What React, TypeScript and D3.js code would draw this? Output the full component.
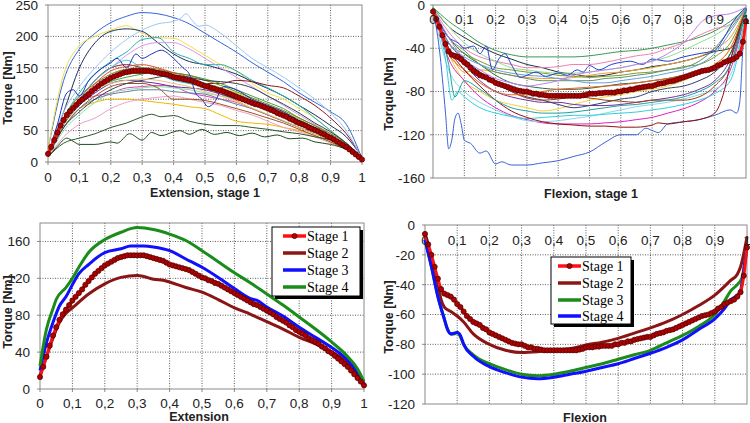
import React from "react";
import * as d3 from "d3";

type Pt = [number, number];

const XTICKS = [0, 0.1, 0.2, 0.3, 0.4, 0.5, 0.6, 0.7, 0.8, 0.9, 1];
const G21 = [0, 0.05, 0.1, 0.15, 0.2, 0.25, 0.3, 0.35, 0.4, 0.45, 0.5, 0.55, 0.6, 0.65, 0.7, 0.75, 0.8, 0.85, 0.9, 0.95, 1];
const G101 = d3.range(101).map((i) => i / 100);

const YTICKS_EXT1 = [0, 50, 100, 150, 200, 250];
const YTICKS_FLEX1 = [0, -40, -80, -120, -160];
const YTICKS_EXT = [0, 40, 80, 120, 160];
const YTICKS_FLEX = [0, -20, -40, -60, -80, -100, -120];

// Stage 1 mean curves sampled every 0.01
const EXT_STAGE1 = [13, 24, 35, 47, 58, 67, 75, 81, 86, 91, 96, 100, 104, 108, 113, 117, 121, 125, 128, 131, 134, 136, 138, 140, 142, 143, 144, 145, 145, 145, 145, 145, 145, 144, 143, 142, 141, 140, 139, 137, 135, 134, 133, 132, 131, 130, 129, 127, 125, 123, 121, 120, 118, 117, 115, 114, 112, 110, 108, 106, 104, 102, 100, 98, 96, 94, 92, 91, 89, 87, 85, 83, 81, 78, 76, 74, 72, 69, 67, 64, 62, 60, 58, 55, 53, 51, 49, 46, 44, 41, 39, 36, 33, 30, 27, 24, 20, 16, 12, 8, 4];
const FLEX_STAGE1 = [-6, -13, -20, -28, -36, -43, -46, -47, -48, -50, -53, -55, -58, -61, -63, -65, -66, -67, -69, -70, -72, -73, -74, -75, -76, -77, -78, -79, -79.5, -80, -80, -81, -82, -82, -83, -83, -83.5, -84, -84, -84, -84, -84, -84, -84, -84, -84, -84, -84, -83.5, -83, -82, -82, -82, -81.5, -81.5, -81, -81, -81, -81, -80, -80, -79, -79, -78, -78, -77, -76.5, -76, -75.5, -75, -75, -74, -73, -72.5, -72, -71, -70.5, -70, -69, -68, -67, -66, -65, -64, -63, -62, -61, -60.5, -60, -59, -58, -56, -55, -53, -52, -51, -50, -48, -45, -34, -15];

const EXT_STAGE2: Pt[] = [[0, 15], [0.02, 35], [0.04, 55], [0.06, 72], [0.08, 82], [0.1, 88], [0.15, 103], [0.2, 114], [0.25, 121], [0.3, 123], [0.32, 122], [0.35, 119], [0.38, 118], [0.4, 116], [0.45, 110], [0.5, 105], [0.55, 97], [0.6, 88], [0.65, 81], [0.7, 73], [0.75, 65], [0.8, 56], [0.85, 49], [0.9, 40], [0.93, 34], [0.95, 28], [0.98, 16], [1, 6]];
const EXT_STAGE3: Pt[] = [[0, 20], [0.02, 50], [0.04, 72], [0.06, 90], [0.08, 100], [0.1, 113], [0.12, 125], [0.15, 135], [0.2, 148], [0.25, 152], [0.28, 155], [0.32, 155], [0.35, 154], [0.4, 150], [0.45, 141], [0.5, 132], [0.55, 121], [0.6, 109], [0.65, 98], [0.67, 96], [0.7, 89], [0.75, 79], [0.8, 67], [0.85, 56], [0.9, 45], [0.95, 31], [0.98, 18], [1, 5]];
const EXT_STAGE4: Pt[] = [[0, 25], [0.02, 65], [0.04, 87], [0.05, 97], [0.08, 110], [0.1, 120], [0.12, 132], [0.15, 148], [0.2, 162], [0.25, 170], [0.3, 175], [0.35, 173], [0.4, 168], [0.45, 161], [0.5, 150], [0.55, 138], [0.6, 126], [0.65, 115], [0.7, 103], [0.75, 91], [0.8, 78], [0.85, 65], [0.9, 51], [0.95, 35], [0.98, 22], [1, 8]];

const FLEX_STAGE2: Pt[] = [[0, -8], [0.02, -22], [0.04, -40], [0.05, -50], [0.06, -55], [0.08, -58], [0.1, -61], [0.12, -65], [0.15, -73], [0.2, -80], [0.25, -84], [0.3, -85.5], [0.35, -85], [0.4, -84], [0.45, -83], [0.5, -80.5], [0.55, -78.5], [0.6, -76], [0.65, -72.5], [0.7, -69], [0.75, -65], [0.8, -60], [0.85, -54], [0.9, -47], [0.95, -37], [0.97, -33], [0.98, -28], [1, -8]];
const FLEX_STAGE3: Pt[] = [[0, -10], [0.02, -28], [0.04, -48], [0.06, -63], [0.07, -70], [0.08, -73], [0.09, -73], [0.1, -72], [0.11, -75], [0.12, -80], [0.15, -87], [0.2, -93], [0.25, -97], [0.3, -100], [0.35, -101], [0.4, -100], [0.45, -98], [0.5, -95.5], [0.55, -93], [0.6, -90], [0.65, -87], [0.7, -84], [0.75, -79], [0.8, -74], [0.85, -68], [0.9, -60], [0.93, -51], [0.95, -44], [0.97, -40], [0.985, -35], [1, -13]];
const FLEX_STAGE4: Pt[] = [[0, -10], [0.02, -28], [0.04, -48], [0.06, -63], [0.07, -70], [0.08, -73], [0.09, -72.5], [0.1, -72], [0.11, -74], [0.12, -80], [0.15, -88], [0.2, -95], [0.25, -99], [0.3, -102], [0.35, -103], [0.4, -102], [0.45, -100], [0.5, -98], [0.55, -95.5], [0.6, -93], [0.65, -89.5], [0.7, -86], [0.75, -82], [0.8, -77], [0.85, -70], [0.9, -63], [0.93, -56], [0.95, -50], [0.97, -47], [0.98, -44], [0.99, -30], [1, -15]];

// Individual extension trials (values on G21)
const EXT_TRIALS: number[][] = [
  [20, 130, 180, 205, 222, 232, 238, 236, 230, 220, 205, 190, 175, 158, 143, 128, 110, 95, 80, 60, 5],
  [20, 140, 185, 200, 210, 217, 205, 198, 197, 185, 170, 155, 145, 125, 110, 100, 85, 70, 50, 30, 5],
  [15, 80, 150, 190, 208, 212, 208, 190, 172, 160, 155, 148, 140, 128, 117, 105, 90, 75, 58, 40, 8],
  [10, 70, 110, 140, 160, 175, 195, 198, 175, 165, 155, 155, 145, 130, 118, 105, 90, 70, 50, 30, 5],
  [10, 60, 100, 130, 150, 170, 185, 190, 190, 180, 165, 150, 135, 120, 105, 90, 75, 60, 45, 30, 5],
  [12, 70, 100, 130, 150, 155, 150, 145, 140, 130, 125, 125, 130, 128, 122, 118, 105, 90, 70, 45, 8],
  [10, 60, 95, 105, 110, 118, 120, 122, 120, 110, 105, 100, 95, 85, 75, 65, 55, 45, 35, 22, 5],
  [10, 65, 100, 120, 135, 140, 142, 140, 135, 125, 118, 108, 98, 85, 75, 65, 55, 45, 35, 22, 5],
  [10, 60, 85, 95, 100, 100, 98, 95, 92, 88, 85, 75, 65, 62, 60, 55, 50, 42, 32, 20, 5],
  [8, 40, 60, 70, 85, 95, 100, 103, 105, 100, 95, 90, 82, 75, 65, 55, 48, 40, 30, 20, 5],
  [8, 50, 75, 95, 110, 115, 118, 120, 118, 115, 110, 105, 100, 92, 82, 72, 60, 48, 38, 25, 5],
  [10, 65, 100, 130, 150, 162, 150, 140, 130, 125, 120, 112, 105, 95, 85, 75, 62, 50, 38, 25, 5],
  [10, 60, 95, 115, 128, 135, 140, 145, 142, 138, 132, 125, 115, 105, 95, 85, 70, 58, 42, 28, 5],
  [10, 55, 85, 105, 120, 125, 125, 118, 100, 100, 98, 92, 85, 78, 70, 62, 52, 42, 32, 20, 5],
  [10, 60, 90, 110, 125, 130, 128, 125, 120, 118, 115, 108, 100, 92, 85, 75, 65, 52, 40, 25, 5],
  [10, 55, 85, 100, 108, 112, 115, 115, 112, 110, 108, 100, 92, 85, 75, 65, 55, 45, 35, 22, 5],
  [10, 70, 105, 125, 140, 148, 150, 148, 142, 138, 130, 122, 112, 102, 92, 82, 70, 58, 45, 30, 5],
  [10, 65, 98, 125, 145, 152, 155, 150, 142, 135, 125, 118, 108, 98, 88, 78, 65, 52, 40, 25, 5],
  [10, 60, 95, 120, 135, 145, 148, 145, 140, 132, 125, 118, 110, 100, 90, 80, 68, 55, 42, 28, 5],
  [10, 55, 80, 100, 115, 125, 130, 135, 138, 135, 130, 128, 125, 118, 105, 92, 78, 62, 48, 30, 8],
  [10, 65, 95, 115, 125, 130, 132, 130, 125, 120, 112, 105, 96, 86, 76, 66, 55, 45, 35, 22, 5],
];
const EXT_TRIAL_COLORS = ["#3366dd", "#f0e040", "#1c2c5c", "#22b0b0", "#d898e8", "#8b1a1a", "#e040c0", "#f0a020", "#f0b800", "#f0a0c8", "#90e0a0", "#30c8e0", "#40a040", "#a05020", "#6030a0", "#6080a0", "#808020", "#e05030", "#a0d040", "#304050", "#f0c080"];

const EXT_IRREG: Pt[][] = [
  [[0, 15], [0.05, 80], [0.1, 120], [0.15, 150], [0.2, 175], [0.25, 195], [0.3, 210], [0.35, 220], [0.4, 224], [0.42, 228], [0.44, 236], [0.46, 225], [0.48, 216], [0.5, 218], [0.55, 205], [0.6, 185], [0.65, 165], [0.7, 150], [0.75, 135], [0.8, 118], [0.85, 100], [0.9, 78], [0.95, 50], [1, 5]],
  [[0, 12], [0.03, 60], [0.06, 110], [0.08, 115], [0.1, 105], [0.13, 130], [0.16, 145], [0.2, 158], [0.22, 165], [0.25, 150], [0.28, 172], [0.3, 165], [0.33, 172], [0.36, 178], [0.4, 165], [0.43, 150], [0.45, 140], [0.47, 110], [0.49, 100], [0.51, 88], [0.53, 95], [0.56, 120], [0.6, 115], [0.65, 100], [0.7, 90], [0.75, 80], [0.8, 66], [0.85, 55], [0.9, 40], [0.95, 25], [1, 5]],
  [[0, 8], [0.05, 30], [0.1, 38], [0.15, 45], [0.2, 55], [0.25, 62], [0.3, 72], [0.33, 76], [0.36, 72], [0.4, 74], [0.45, 65], [0.5, 60], [0.55, 58], [0.6, 58], [0.65, 55], [0.7, 52], [0.75, 48], [0.8, 45], [0.85, 40], [0.9, 35], [0.95, 25], [1, 5]],
  [[0, 8], [0.03, 25], [0.06, 38], [0.08, 33], [0.1, 28], [0.15, 28], [0.2, 32], [0.22, 30], [0.26, 45], [0.3, 35], [0.33, 47], [0.36, 42], [0.4, 48], [0.42, 50], [0.45, 44], [0.49, 52], [0.53, 44], [0.57, 47], [0.61, 42], [0.65, 46], [0.69, 40], [0.73, 43], [0.77, 37], [0.81, 38], [0.85, 32], [0.9, 28], [0.95, 20], [1, 5]],
];
const EXT_IRREG_COLORS = ["#9cc8f0", "#2030c0", "#2a5a2a", "#1f4f1f"];

// Individual flexion trials (values on G21)
const FLEX_TRIALS: number[][] = [
  [-2, -15, -25, -35, -42, -46, -48, -48, -48, -48, -47, -45, -43, -42, -40, -37, -34, -30, -24, -15, -3],
  [-2, -20, -30, -38, -45, -50, -55, -58, -62, -64, -66, -65, -62, -60, -57, -55, -52, -48, -43, -40, -5],
  [-3, -25, -40, -48, -52, -55, -58, -58, -57, -55, -55, -53, -50, -47, -45, -40, -35, -28, -22, -18, -3],
  [-3, -40, -62, -60, -62, -65, -67, -68, -68, -67, -65, -63, -62, -60, -58, -55, -52, -48, -40, -30, -3],
  [-3, -35, -45, -52, -58, -60, -62, -63, -65, -66, -67, -66, -65, -63, -62, -60, -57, -55, -48, -35, -3],
  [-3, -45, -70, -80, -88, -92, -95, -98, -96, -92, -88, -85, -83, -80, -78, -75, -70, -63, -55, -40, -3],
  [-3, -50, -70, -85, -95, -102, -106, -109, -110, -110, -110, -109, -108, -106, -104, -100, -96, -90, -80, -60, -5],
  [-5, -60, -80, -90, -97, -103, -107, -108, -107, -105, -103, -100, -97, -94, -92, -90, -87, -83, -78, -65, -5],
  [-3, -40, -55, -70, -80, -85, -88, -90, -90, -92, -93, -93, -92, -90, -88, -86, -83, -78, -70, -50, -4],
  [-3, -35, -50, -62, -72, -80, -85, -88, -92, -95, -93, -90, -87, -85, -80, -77, -75, -70, -62, -45, -4],
  [-3, -30, -45, -55, -65, -72, -75, -77, -78, -78, -77, -75, -73, -72, -70, -68, -65, -62, -58, -45, -4],
  [-3, -40, -55, -62, -72, -80, -86, -88, -87, -85, -86, -88, -89, -90, -88, -88, -88, -85, -75, -55, -4],
  [-2, -20, -35, -45, -52, -58, -60, -62, -63, -63, -62, -60, -58, -55, -52, -48, -42, -35, -28, -18, -2],
  [-3, -45, -60, -72, -80, -83, -83, -80, -78, -77, -76, -75, -74, -72, -70, -68, -65, -62, -55, -40, -3],
  [-3, -30, -42, -55, -62, -65, -68, -70, -70, -70, -70, -68, -67, -65, -63, -60, -58, -52, -40, -22, -3],
  [-3, -35, -48, -55, -60, -63, -65, -66, -68, -70, -72, -72, -70, -68, -66, -63, -60, -55, -45, -25, -3],
];
const FLEX_TRIAL_COLORS = ["#3a9a50", "#203040", "#f080b0", "#f0a030", "#7a9a30", "#f0d040", "#e020c0", "#88d8e8", "#7030a0", "#304070", "#2d6a3a", "#a04010", "#90e090", "#f06020", "#609060", "#60a0e0"];

const FLEX_IRREG: Pt[][] = [
  [[0, -5], [0.02, -40], [0.04, -100], [0.05, -133], [0.06, -125], [0.07, -105], [0.08, -100], [0.09, -110], [0.1, -125], [0.12, -128], [0.15, -137], [0.17, -135], [0.2, -147], [0.22, -145], [0.25, -148], [0.3, -148], [0.35, -146], [0.4, -144], [0.45, -140], [0.5, -136], [0.55, -127], [0.6, -120], [0.65, -120], [0.68, -114], [0.7, -116], [0.72, -118], [0.75, -110], [0.8, -108], [0.85, -106], [0.9, -102], [0.95, -97], [0.97, -100], [0.98, -90], [0.99, -40], [1, -3]],
  [[0, -3], [0.05, -30], [0.08, -35], [0.1, -40], [0.13, -38], [0.15, -45], [0.17, -38], [0.19, -60], [0.21, -50], [0.23, -45], [0.25, -55], [0.28, -67], [0.3, -65], [0.33, -62], [0.36, -66], [0.4, -63], [0.43, -65], [0.46, -60], [0.48, -62], [0.5, -56], [0.53, -60], [0.57, -55], [0.6, -53], [0.63, -52], [0.67, -55], [0.7, -50], [0.75, -52], [0.8, -48], [0.85, -45], [0.9, -42], [0.93, -30], [0.96, -15], [1, -2]],
  [[0, -3], [0.05, -30], [0.1, -50], [0.15, -60], [0.2, -68], [0.25, -72], [0.3, -75], [0.35, -73], [0.4, -70], [0.45, -65], [0.5, -62], [0.55, -60], [0.6, -58], [0.65, -55], [0.7, -52], [0.75, -45], [0.8, -35], [0.83, -25], [0.86, -15], [0.9, -10], [0.95, -8], [1, -2]],
  [[0, -3], [0.04, -50], [0.06, -88], [0.08, -80], [0.1, -85], [0.15, -95], [0.2, -100], [0.25, -103], [0.3, -105], [0.35, -104], [0.4, -103], [0.45, -102], [0.5, -102], [0.55, -101], [0.6, -100], [0.65, -99], [0.7, -97], [0.75, -95], [0.8, -92], [0.85, -88], [0.9, -82], [0.95, -70], [1, -5]],
  [[0, -3], [0.05, -40], [0.1, -60], [0.15, -75], [0.2, -88], [0.25, -98], [0.3, -104], [0.35, -108], [0.4, -110], [0.45, -111], [0.5, -112], [0.55, -112], [0.6, -113], [0.65, -113], [0.7, -111], [0.72, -109], [0.75, -110], [0.8, -108], [0.85, -106], [0.9, -100], [0.93, -80], [0.96, -40], [1, -5]],
  [[0, -3], [0.05, -55], [0.07, -85], [0.1, -70], [0.15, -78], [0.2, -88], [0.25, -95], [0.3, -98], [0.35, -100], [0.4, -100], [0.45, -99], [0.5, -97], [0.55, -95], [0.6, -93], [0.65, -92], [0.7, -90], [0.75, -88], [0.8, -85], [0.85, -80], [0.9, -72], [0.95, -55], [1, -4]],
];
const FLEX_IRREG_COLORS = ["#3a62d8", "#2040d0", "#c080f0", "#30d0e0", "#901010", "#20a0a0"];

const STAGE_LABELS = ["Stage 1", "Stage 2", "Stage 3", "Stage 4"];

const zip = (xs: number[], ys: number[]): Pt[] => ys.map((v, i) => [xs[i], v]);
const fmt = (v: number) => (v === 0 || v === 1 ? String(v) : v.toFixed(1).replace(".", ","));

const RED = "#ff1010";
const MAROON = "#8b1414";
const BLUE = "#1010ff";
const GREEN = "#1a8c1a";

type Series = { pts: Pt[]; color: string; width: number; markers?: boolean };
type LegendItem = { label: string; color: string; markers?: boolean };

interface PanelProps {
  l: number; r: number; t: number; b: number;
  yDomain: [number, number];
  yTicks: number[];
  xAxisTop: boolean;
  xLabelY: number;
  yLabelX: number;
  xTitle: string; xTitleX: number; xTitleY: number;
  yTitleX: number; yTitleY: number;
  series: Series[];
  legend?: { x: number; y: number; w: number; h: number; rowY: number[]; lineX0: number; lineX1: number; textX: number; items: LegendItem[] };
}

function Marker({ cx, cy }: { cx: number; cy: number }) {
  return <circle cx={cx} cy={cy} r={2.6} fill="#b00000" stroke="#4a0000" strokeWidth={0.7} />;
}

function Panel(p: PanelProps) {
  const x = d3.scaleLinear().domain([0, 1]).range([p.l, p.r]);
  const y = d3.scaleLinear().domain(p.yDomain).range([p.b, p.t]);
  const line = d3.line<Pt>().x((d) => x(d[0])).y((d) => y(d[1])).curve(d3.curveMonotoneX);
  const font = "Liberation Sans, Arial, sans-serif";
  return (
    <g>
      {/* grid */}
      {XTICKS.filter((v) => v > 0 && v < 1).map((v) => (
        <line key={"gx" + v} x1={x(v)} x2={x(v)} y1={p.t} y2={p.b} stroke="#333" strokeWidth={0.8} strokeDasharray="1 1.5" />
      ))}
      {p.yTicks.filter((v) => v !== p.yDomain[0] && v !== p.yDomain[1]).map((v) => (
        <line key={"gy" + v} x1={p.l} x2={p.r} y1={y(v)} y2={y(v)} stroke="#333" strokeWidth={0.8} strokeDasharray="1 1.5" />
      ))}
      {/* frame */}
      <rect x={p.l} y={p.t} width={p.r - p.l} height={p.b - p.t} fill="none" stroke="#8a8a8a" strokeWidth={1} />
      {/* ticks */}
      {p.yTicks.map((v) => (
        <line key={"ty" + v} x1={p.l - 3} x2={p.l} y1={y(v)} y2={y(v)} stroke="#8a8a8a" />
      ))}
      {!p.xAxisTop && XTICKS.map((v) => (
        <line key={"tx" + v} x1={x(v)} x2={x(v)} y1={p.b} y2={p.b + 3} stroke="#8a8a8a" />
      ))}
      {/* series */}
      {p.series.map((s, i) => (
        <g key={"s" + i}>
          <path d={line(s.pts) || ""} fill="none" stroke={s.color} strokeWidth={s.width} strokeLinejoin="round" />
          {s.markers && s.pts.map((d, j) => <Marker key={j} cx={x(d[0])} cy={y(d[1])} />)}
        </g>
      ))}
      {/* tick labels */}
      {XTICKS.map((v) => (
        <text key={"lx" + v} x={x(v)} y={p.xLabelY} textAnchor="middle" fontFamily={font} fontSize={13.5} fill="#222">{fmt(v)}</text>
      ))}
      {p.yTicks.map((v) => (
        <text key={"ly" + v} x={p.yLabelX} y={y(v)} dy="0.36em" textAnchor="end" fontFamily={font} fontSize={13.5} fill="#222">{String(v)}</text>
      ))}
      {/* titles */}
      <text x={p.xTitleX} y={p.xTitleY} textAnchor="middle" fontFamily={font} fontWeight="bold" fontSize={12.5} fill="#222">{p.xTitle}</text>
      <text transform={`translate(${p.yTitleX},${p.yTitleY}) rotate(-90)`} textAnchor="middle" fontFamily={font} fontWeight="bold" fontSize={12.5} fill="#222">Torque [Nm]</text>
      {/* legend */}
      {p.legend && (
        <g>
          <rect x={p.legend.x + 3} y={p.legend.y + 3} width={p.legend.w} height={p.legend.h} fill="#000" />
          <rect x={p.legend.x} y={p.legend.y} width={p.legend.w} height={p.legend.h} fill="#fff" stroke="#000" strokeWidth={1} />
          {p.legend.items.map((it, i) => (
            <g key={"lg" + i}>
              <line x1={p.legend!.lineX0} x2={p.legend!.lineX1} y1={p.legend!.rowY[i]} y2={p.legend!.rowY[i]} stroke={it.color} strokeWidth={3.5} />
              {it.markers && <Marker cx={(p.legend!.lineX0 + p.legend!.lineX1) / 2} cy={p.legend!.rowY[i]} />}
              <text x={p.legend!.textX} y={p.legend!.rowY[i]} dy="0.35em" fontFamily="Liberation Serif, Times New Roman, serif" fontSize={14} fill="#000">{it.label}</text>
            </g>
          ))}
        </g>
      )}
    </g>
  );
}

export default function App() {
  const ext1 = zip(G101, EXT_STAGE1);
  const flex1 = zip(G101, FLEX_STAGE1);

  const topLeft: Series[] = [
    ...EXT_TRIALS.map((ys, i) => ({ pts: zip(G21, ys), color: EXT_TRIAL_COLORS[i], width: 1 })),
    ...EXT_IRREG.map((pts, i) => ({ pts, color: EXT_IRREG_COLORS[i], width: 1 })),
    { pts: ext1, color: RED, width: 3, markers: true },
  ];
  const topRight: Series[] = [
    ...FLEX_TRIALS.map((ys, i) => ({ pts: zip(G21, ys), color: FLEX_TRIAL_COLORS[i], width: 1 })),
    ...FLEX_IRREG.map((pts, i) => ({ pts, color: FLEX_IRREG_COLORS[i], width: 1 })),
    { pts: flex1, color: RED, width: 3, markers: true },
  ];
  const botLeft: Series[] = [
    { pts: EXT_STAGE2, color: MAROON, width: 3 },
    { pts: EXT_STAGE3, color: BLUE, width: 3 },
    { pts: EXT_STAGE4, color: GREEN, width: 3 },
    { pts: ext1, color: RED, width: 3, markers: true },
  ];
  const botRight: Series[] = [
    { pts: FLEX_STAGE2, color: MAROON, width: 3 },
    { pts: FLEX_STAGE3, color: GREEN, width: 3 },
    { pts: FLEX_STAGE4, color: BLUE, width: 3 },
    { pts: flex1, color: RED, width: 3, markers: true },
  ];

  return (
    <svg width={750} height={423} style={{ position: "absolute", left: 0, top: 0, background: "#fff" }}>
      <rect width={750} height={423} fill="#fff" />
      <Panel l={48} r={362} t={5} b={162} yDomain={[0, 250]} yTicks={YTICKS_EXT1} xAxisTop={false}
        xLabelY={182} yLabelX={38} xTitle="Extension, stage 1" xTitleX={205} xTitleY={197} yTitleX={12} yTitleY={88}
        series={topLeft} />
      <Panel l={433} r={746} t={5} b={178} yDomain={[-160, 0]} yTicks={YTICKS_FLEX1} xAxisTop={true}
        xLabelY={24} yLabelX={425} xTitle="Flexion, stage 1" xTitleX={591} xTitleY={198} yTitleX={393} yTitleY={94}
        series={topRight} />
      <Panel l={40} r={364} t={223} b={389} yDomain={[0, 180]} yTicks={YTICKS_EXT} xAxisTop={false}
        xLabelY={408} yLabelX={30} xTitle="Extension" xTitleX={199} xTitleY={421} yTitleX={12} yTitleY={312}
        series={botLeft}
        legend={{ x: 272, y: 227, w: 88, h: 69, rowY: [236, 253, 270, 287], lineX0: 283, lineX1: 306, textX: 307,
          items: [{ label: STAGE_LABELS[0], color: RED, markers: true }, { label: STAGE_LABELS[1], color: MAROON }, { label: STAGE_LABELS[2], color: BLUE }, { label: STAGE_LABELS[3], color: GREEN }] }} />
      <Panel l={425} r={747} t={225} b={404} yDomain={[-120, 0]} yTicks={YTICKS_FLEX} xAxisTop={true}
        xLabelY={245} yLabelX={415} xTitle="Flexion" xTitleX={585} xTitleY={422} yTitleX={393} yTitleY={317}
        series={botRight}
        legend={{ x: 551, y: 257, w: 80, h: 67, rowY: [266, 283, 300, 316], lineX0: 558, lineX1: 581, textX: 582,
          items: [{ label: STAGE_LABELS[0], color: RED, markers: true }, { label: STAGE_LABELS[1], color: MAROON }, { label: STAGE_LABELS[2], color: GREEN }, { label: STAGE_LABELS[3], color: BLUE }] }} />
    </svg>
  );
}
